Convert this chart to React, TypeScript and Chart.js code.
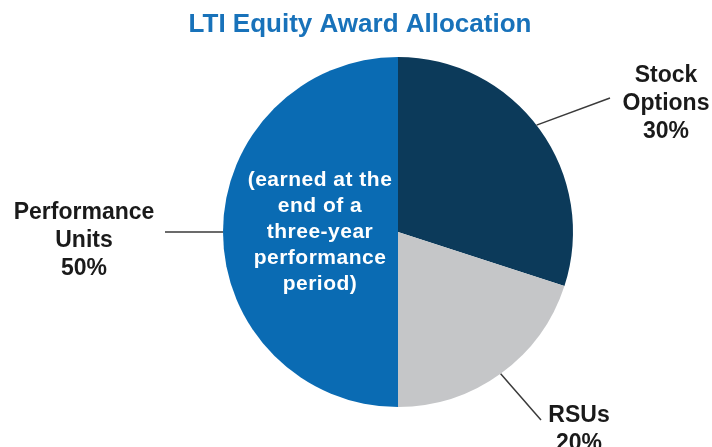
import React, { useEffect, useRef } from "react";
import { Chart, registerables } from "chart.js";

Chart.register(...registerables);

const categories = ["Stock Options", "RSUs", "Performance Units"];
const values = [30, 20, 50];
const sliceColors = ["#0c3a5a", "#c5c6c8", "#0a6bb3"];
const titleText = "LTI Equity Award Allocation";
const innerNote = ["(earned at the", "end of a", "three-year", "performance", "period)"];

const FONT = "'Liberation Sans'";

const labelPlugin = {
  id: "labelPlugin",
  afterDraw(chart: any) {
    const ctx = chart.ctx;
    const meta = chart.getDatasetMeta(0);
    const arcs = meta.data;
    const cx = arcs[0].x;
    const cy = arcs[0].y;
    const r = arcs[0].outerRadius;
    ctx.save();
    ctx.textAlign = "center";
    ctx.textBaseline = "alphabetic";
    ctx.fillStyle = "#1872ba";
    ctx.font = "bold 26px " + FONT;
    ctx.fillText(titleText, 360, 32);

    const total = values.reduce((a, b) => a + b, 0);
    const pct = (i: number) => Math.round((values[i] / total) * 100) + "%";

    ctx.strokeStyle = "#3a3a3a";
    ctx.lineWidth = 1.5;
    ctx.font = "bold 23px " + FONT;
    ctx.fillStyle = "#1a1a1a";

    {
      const a = -0.657;
      const x0 = cx + Math.cos(a) * r, y0 = cy + Math.sin(a) * r;
      ctx.beginPath(); ctx.moveTo(x0, y0); ctx.lineTo(610, 98); ctx.stroke();
      ctx.fillText("Stock", 666, 82); ctx.fillText("Options", 666, 110); ctx.fillText(pct(0), 666, 138);
    }
    {
      const a = 0.944;
      const x0 = cx + Math.cos(a) * r, y0 = cy + Math.sin(a) * r;
      ctx.beginPath(); ctx.moveTo(x0, y0); ctx.lineTo(541, 420); ctx.stroke();
      ctx.fillText("RSUs", 579, 422); ctx.fillText(pct(1), 579, 450);
    }
    {
      ctx.beginPath(); ctx.moveTo(165, cy); ctx.lineTo(cx - r, cy); ctx.stroke();
      ctx.fillText("Performance", 84, 219); ctx.fillText("Units", 84, 247); ctx.fillText(pct(2), 84, 275);
    }
    ctx.fillStyle = "#ffffff";
    ctx.font = "bold 21px " + FONT;
    try { ctx.letterSpacing = "0.5px"; } catch (e) {}
    innerNote.forEach((t, i) => ctx.fillText(t, 320, 186 + i * 26));
    try { ctx.letterSpacing = "0px"; } catch (e) {}
    ctx.restore();
  },
};

export default function App() {
  const ref = useRef<HTMLCanvasElement>(null);
  useEffect(() => {
    document.body.style.margin = "0";
    const chart = new Chart(ref.current!, {
      type: "pie",
      data: {
        labels: categories,
        datasets: [{ data: values, backgroundColor: sliceColors, borderWidth: 0 }],
      },
      options: {
        animation: false,
        responsive: false,
        layout: { padding: { left: 223, right: 139, top: 57, bottom: 40 } },
        plugins: { legend: { display: false }, title: { display: false }, tooltip: { enabled: false } },
      },
      plugins: [labelPlugin],
    });
    return () => chart.destroy();
  }, []);
  return (
    <div style={{ position: "fixed", left: 0, top: 0, width: 712, height: 447, background: "#fff" }}>
      <canvas ref={ref} width={712} height={447} />
    </div>
  );
}
